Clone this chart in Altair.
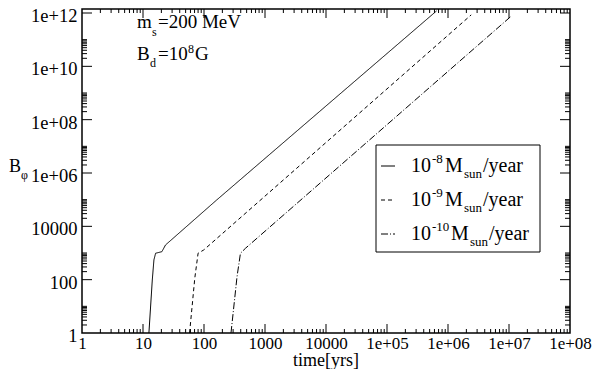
import altair as alt
import pandas as pd

# ---------------- data ----------------
t_8 = [12.5, 14.2, 15.1, 16.1, 20.4, 23.4, 162, 6.5e5]
b_8 = [1, 97, 550, 980, 1120, 2000, 9.8e4, 1.2e12]
t_9 = [58, 70.6, 80, 99, 2.4e6]
b_9 = [1, 113, 980, 1300, 8.5e11]
t_10 = [277, 348, 396, 478, 1.05e7]
b_10 = [1, 130, 980, 1500, 7.1e11]
series_names = ["1e-8", "1e-9", "1e-10"]
legend_exps = ["-8", "-9", "-10"]
x_major = [1, 10, 100, 1000, 1e4, 1e5, 1e6, 1e7, 1e8]
y_major = [1, 1e2, 1e4, 1e6, 1e8, 1e10, 1e12]

# ---------------- layout ----------------
W, H = 488, 324
YMAX = 10 ** 12.15
FONT = "Liberation Serif"
DASHES = [[1, 0], [4, 3], [7, 2, 1, 2]]

xs = alt.Scale(type="log", domain=[1, 1e8], nice=False)
ys = alt.Scale(type="log", domain=[1, YMAX], nice=False)

LBL = ("datum.value < 1e5 ? format(datum.value, 'd') : "
       "'1e+' + format(round(log(datum.value)/LN10), '02d')")
X_AXIS = alt.Axis(values=x_major, labelExpr=LBL, title=None, labelFontSize=17,
                  labelPadding=2, labelFlush=False)
Y_AXIS = alt.Axis(values=y_major, labelExpr=LBL, title=None, labelFontSize=18.5,
                  labelPadding=5, labelOffset=2.5, labelFlush=False)

df = pd.concat([
    pd.DataFrame({"t": t_8, "b": b_8, "series": series_names[0]}),
    pd.DataFrame({"t": t_9, "b": b_9, "series": series_names[1]}),
    pd.DataFrame({"t": t_10, "b": b_10, "series": series_names[2]}),
])

lines = alt.Chart(df).mark_line(color="black", strokeWidth=1, clip=True).encode(
    x=alt.X("t:Q", scale=xs, axis=X_AXIS),
    y=alt.Y("b:Q", scale=ys, axis=Y_AXIS),
    strokeDash=alt.StrokeDash("series:N", scale=alt.Scale(domain=series_names, range=DASHES),
                              legend=None),
)

x_minor = [j * 10 ** k for k in range(0, 8) for j in range(2, 10)]
y_minor = [j * 10 ** (2 * m) for m in range(0, 6) for j in range(2, 11)]
y_minor = [v for v in y_minor if v < YMAX]


def xticks(vals, length):
    d = pd.DataFrame({"t": vals})
    base = alt.Chart(d).mark_rule(color="black", strokeWidth=1)
    bottom = base.encode(x=alt.X("t:Q", scale=xs, axis=X_AXIS),
                         y=alt.value(H - length), y2=alt.value(H))
    top = base.encode(x=alt.X("t:Q", scale=xs, axis=X_AXIS),
                      y=alt.value(0), y2=alt.value(length))
    return [bottom, top]


def yticks(vals, length):
    d = pd.DataFrame({"b": vals})
    base = alt.Chart(d).mark_rule(color="black", strokeWidth=1)
    left = base.encode(y=alt.Y("b:Q", scale=ys, axis=Y_AXIS),
                       x=alt.value(0), x2=alt.value(length))
    right = base.encode(y=alt.Y("b:Q", scale=ys, axis=Y_AXIS),
                        x=alt.value(W - length), x2=alt.value(W))
    return [left, right]


one = pd.DataFrame({"a": [0]})


def txt(s, x, y, size=19, align="left"):
    return alt.Chart(one).mark_text(text=s, font=FONT, fontSize=size, align=align,
                                    baseline="alphabetic", color="black").encode(
        x=alt.value(x), y=alt.value(y))


layers = [lines]
layers += xticks(x_major[1:-1], 9) + xticks(x_minor, 4)
layers += yticks(y_major[1:], 10) + yticks(y_minor, 5)

# axis titles
layers += [txt("B", -73, 163, 18), txt("φ", -61, 170, 12)]
layers.append(txt("time[yrs]", W / 2, 357, 18, align="center"))

# annotations
layers += [txt("m", 55, 19), txt("s", 70, 27, 12), txt("=200 MeV", 76, 19)]
layers += [txt("B", 55, 51), txt("d", 68, 58, 12), txt("=10", 76, 51),
           txt("8", 106, 44, 12), txt("G", 113, 51)]

# legend
layers.append(alt.Chart(one).mark_rect(fill="white", stroke="black", strokeWidth=1).encode(
    x=alt.value(294), x2=alt.value(458), y=alt.value(136), y2=alt.value(243)))
row_base = [163, 197, 231]
for i, exp in enumerate(legend_exps):
    yb = row_base[i]
    layers.append(alt.Chart(one).mark_rule(color="black", strokeWidth=1,
                                           strokeDash=DASHES[i]).encode(
        x=alt.value(299), x2=alt.value(313), y=alt.value(yb - 6)))
    shift = 6 if len(exp) > 2 else 0
    layers += [txt("10", 329, yb, 20), txt(exp, 350, yb - 9, 13),
               txt("M", 363 + shift, yb, 20), txt("sun", 382 + shift, yb + 6, 13),
               txt("/year", 401 + shift, yb, 20)]

chart = alt.layer(*layers).properties(
    width=W, height=H, autosize="none",
    padding={"left": 74, "top": 1, "right": 22, "bottom": 36},
).configure_view(stroke="black", strokeWidth=1.5).configure_axis(
    domain=False, ticks=False, tickSize=0, grid=False,
    labelFont=FONT, labelColor="black",
)

chart.save("out.html", embed_options={"renderer": "svg", "actions": False})
